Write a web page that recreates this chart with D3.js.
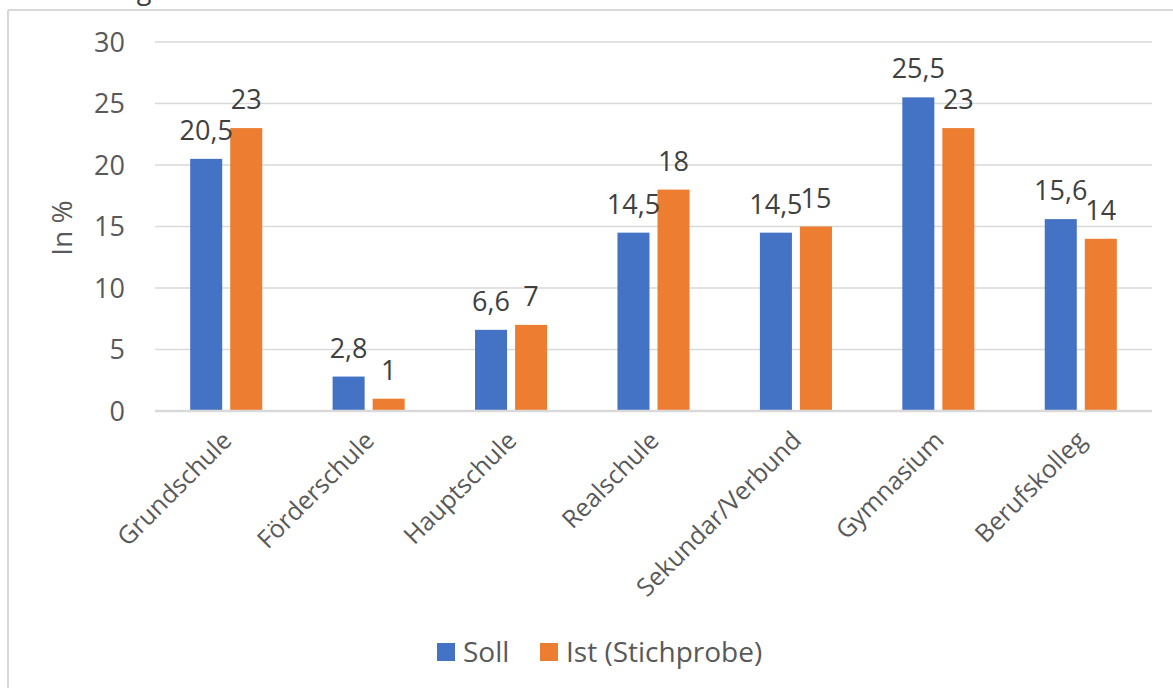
<!DOCTYPE html>
<html>
<head>
<meta charset="utf-8">
<script src="https://cdn.jsdelivr.net/npm/d3@7"></script>
<style>
  html, body { margin: 0; padding: 0; background: #fff; }
  svg { display: block; font-family: "Open Sans", "Noto Sans", sans-serif; }
</style>
</head>
<body>
<svg id="chart" width="1173" height="688"></svg>
<script>
// School types and shares (in %)
const categories = ["Grundschule", "Förderschule", "Hauptschule", "Realschule", "Sekundar/Verbund", "Gymnasium", "Berufskolleg"];
const seriesNames = ["Soll", "Ist (Stichprobe)"];
const sollValues = [20.5, 2.8, 6.6, 14.5, 14.5, 25.5, 15.6];
const istValues = [23, 1, 7, 18, 15, 23, 14];
const yTicks = [0, 5, 10, 15, 20, 25, 30];
const colors = ["#4472C4", "#ED7D31"];

const svg = d3.select("#chart");
const W = 1173, H = 688;
const plot = { left: 155, right: 1152, top: 42, bottom: 411 };

// outer frame (top and left edges visible)
svg.append("line").attr("x1", 8).attr("x2", W).attr("y1", 10).attr("y2", 10)
  .attr("stroke", "#d9d9d9").attr("stroke-width", 2);
svg.append("line").attr("x1", 8).attr("x2", 8).attr("y1", 10).attr("y2", H)
  .attr("stroke", "#d9d9d9").attr("stroke-width", 2);

// caption line above the frame, clipped by the page edge
svg.append("text").attr("x", 144).attr("y", -1).attr("text-anchor", "middle")
  .attr("font-size", 27).attr("fill", "#404040").text("g");

const y = d3.scaleLinear().domain([0, 30]).range([plot.bottom, plot.top]);
const x0 = d3.scaleBand().domain(categories).range([plot.left, plot.right])
  .paddingInner(0.494).paddingOuter(0.247);
const x1 = d3.scaleBand().domain(seriesNames).range([0, x0.bandwidth()]).paddingInner(0.2);

// gridlines
svg.append("g").selectAll("line").data(yTicks.filter(d => d > 0)).join("line")
  .attr("x1", plot.left).attr("x2", plot.right)
  .attr("y1", d => y(d)).attr("y2", d => y(d))
  .attr("stroke", "#d9d9d9").attr("stroke-width", 1.5);

// y axis labels
const yAxis = d3.axisLeft(y).tickValues(yTicks).tickSize(0).tickPadding(0);
const yg = svg.append("g").attr("transform", "translate(125,0)").call(yAxis);
yg.select(".domain").remove();
yg.selectAll("text").attr("font-size", 27).attr("fill", "#595959")
  .attr("font-family", "'Open Sans', sans-serif").attr("dy", "0.35em");

// y axis title
svg.append("text").attr("transform", "translate(72,228) rotate(-90)")
  .attr("text-anchor", "middle").attr("font-size", 28).attr("fill", "#595959").text("In %");

// bars
const rows = categories.map((c, i) => ({ cat: c, vals: [sollValues[i], istValues[i]] }));
const groups = svg.append("g").selectAll("g").data(rows).join("g")
  .attr("transform", d => `translate(${x0(d.cat)},0)`);
groups.selectAll("rect").data(d => d.vals.map((v, k) => ({ v, s: seriesNames[k], k }))).join("rect")
  .attr("x", d => x1(d.s)).attr("width", x1.bandwidth())
  .attr("y", d => y(d.v)).attr("height", d => y(0) - y(d.v))
  .attr("fill", d => colors[d.k]);

// value labels
const fmt = v => String(v).replace(".", ",");
groups.selectAll("text").data(d => d.vals.map((v, k) => ({ v, s: seriesNames[k], k }))).join("text")
  .attr("x", d => x1(d.s) + x1.bandwidth() / 2).attr("y", d => y(d.v) - 19)
  .attr("text-anchor", "middle").attr("font-size", 27).attr("fill", "#404040")
  .text(d => fmt(d.v));

// baseline
svg.append("line").attr("x1", plot.left).attr("x2", plot.right)
  .attr("y1", y(0)).attr("y2", y(0)).attr("stroke", "#d9d9d9").attr("stroke-width", 2.5);

// category labels, rotated
svg.append("g").selectAll("text").data(categories).join("text")
  .attr("transform", d => `translate(${x0(d) + x0.bandwidth() / 2 + 7},${y(0) + 31}) rotate(-45)`)
  .attr("text-anchor", "end").attr("font-size", 25).attr("fill", "#595959").text(d => d);

// legend
const legend = svg.append("g");
const legendItems = [{ name: seriesNames[0], x: 437 }, { name: seriesNames[1], x: 540 }];
legendItems.forEach((it, k) => {
  legend.append("rect").attr("x", it.x).attr("y", 643).attr("width", 18).attr("height", 18).attr("fill", colors[k]);
  legend.append("text").attr("x", it.x + 26).attr("y", 662).attr("font-size", 28)
    .attr("fill", "#595959").text(it.name);
});
</script>
</body>
</html>
